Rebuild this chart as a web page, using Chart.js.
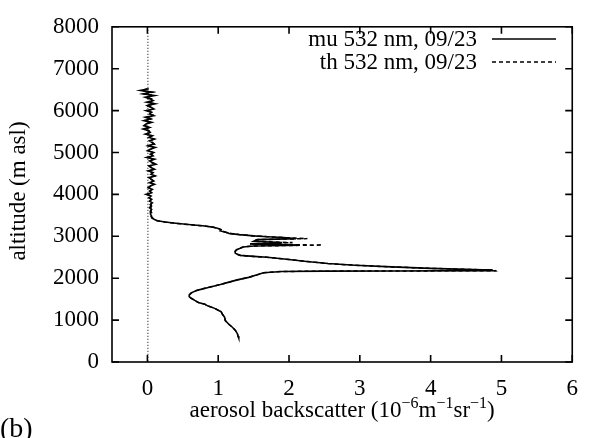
<!DOCTYPE html>
<html>
<head>
<meta charset="utf-8">
<script src="https://cdn.jsdelivr.net/npm/chart.js@4"></script>
<style>
    html, body { margin: 0; padding: 0; background: #fff; }
    #wrap { width: 591px; height: 438px; }
</style>
</head>
<body>
<div id="wrap"><canvas id="profileChart" width="591" height="438"></canvas></div>
<script>
// ===== DATA =====

// altitude levels in m asl, top of profile down to the lowest bin
const altitude = [
    6520, 6480, 6440, 6400, 6360, 6320, 6280, 6240, 6200, 6160,
    6120, 6080, 6040, 6000, 5960, 5920, 5880, 5840, 5800, 5760,
    5720, 5680, 5640, 5600, 5560, 5520, 5480, 5440, 5400, 5360,
    5320, 5280, 5240, 5200, 5160, 5120, 5080, 5040, 5000, 4960,
    4920, 4880, 4840, 4800, 4760, 4720, 4680, 4640, 4600, 4560,
    4520, 4480, 4440, 4400, 4360, 4320, 4280, 4240, 4200, 4160,
    4120, 4080, 4040, 4000, 3960, 3920, 3880, 3840, 3800, 3760,
    3720, 3680, 3640, 3600, 3560, 3520, 3480, 3440,
    3400, 3370, 3340, 3310, 3280, 3250, 3220, 3190, 3160, 3130,
    3100, 3070, 3040, 3010, 2990, 2970, 2945, 2920, 2880, 2850,
    2820, 2790, 2770, 2745, 2715, 2680, 2640, 2600,
    2570, 2545, 2520, 2500, 2465, 2400, 2350, 2310, 2270, 2235,
    2210, 2195, 2180, 2172, 2168, 2160, 2130, 2080, 2020, 1960,
    1900, 1850, 1780, 1710, 1650, 1600, 1560, 1520, 1460, 1420,
    1380, 1340, 1280, 1200, 1140, 1070, 990, 900, 830, 760,
    680, 620, 570
];

// mu 532 nm, 09/23 (solid)
const muBackscatter = [
    0.02, -0.10, 0.06, -0.06, 0.10, -0.03, 0.04, 0.08, -0.01, 0.11,
    0.00, 0.05, 0.09, -0.02, 0.06, 0.03, 0.09, -0.03, 0.04, -0.05,
    0.06, -0.02, -0.05, 0.03, -0.06, 0.02, 0.04, -0.03, 0.07, 0.02,
    0.10, 0.03, 0.06, 0.09, 0.01, 0.11, 0.04, 0.00, 0.09, 0.05,
    0.08, -0.01, 0.10, 0.03, 0.07, 0.12, 0.02, 0.05, 0.10, 0.01,
    0.08, 0.05, 0.11, 0.02, 0.06, 0.09, 0.03, 0.10, 0.04, 0.01,
    0.07, 0.03, 0.06, -0.02, 0.05, 0.02, 0.06, 0.03, 0.07, 0.04,
    0.05, 0.03, 0.06, 0.04, 0.05, 0.04, 0.06, 0.06,
    0.10, 0.14, 0.25, 0.40, 0.58, 0.78, 0.92, 0.99, 1.04, 1.03,
    1.10, 1.15, 1.30, 1.50, 1.70, 1.92, 2.10, 1.55, 1.50, 1.90,
    1.45, 2.15, 1.50, 1.35, 1.31, 1.26, 1.24, 1.24,
    1.27, 1.31, 1.50, 1.69, 1.90, 2.25, 2.55, 2.93, 3.45, 4.00,
    4.50, 4.85, 4.88, 3.50, 2.50, 1.90, 1.64, 1.55, 1.43, 1.27,
    1.14, 1.03, 0.86, 0.70, 0.62, 0.59, 0.59, 0.62, 0.68, 0.72,
    0.81, 0.85, 0.95, 1.04, 1.06, 1.09, 1.10, 1.15, 1.20, 1.24,
    1.27, 1.28, 1.29
];

// th 532 nm, 09/23 (dashed)
const thBackscatter = [
    0.00, -0.08, 0.07, -0.04, 0.08, -0.01, 0.06, 0.09, 0.01, 0.10,
    -0.02, 0.06, 0.08, 0.00, 0.05, 0.02, 0.10, -0.01, 0.05, -0.03,
    0.04, -0.04, -0.03, 0.04, -0.04, 0.01, 0.05, -0.01, 0.06, 0.03,
    0.09, 0.04, 0.07, 0.10, 0.02, 0.09, 0.05, 0.02, 0.08, 0.04,
    0.09, 0.01, 0.08, 0.04, 0.06, 0.10, 0.03, 0.06, 0.09, 0.02,
    0.07, 0.06, 0.10, 0.03, 0.05, 0.08, 0.04, 0.09, 0.05, 0.02,
    0.06, 0.04, 0.05, 0.00, 0.06, 0.03, 0.05, 0.04, 0.06, 0.05,
    0.06, 0.04, 0.05, 0.05, 0.06, 0.05, 0.05, 0.07,
    0.10, 0.14, 0.25, 0.40, 0.58, 0.78, 0.92, 0.99, 1.04, 1.03,
    1.10, 1.15, 1.30, 1.50, 1.70, 1.92, 2.26, 1.55, 1.50, 2.05,
    1.45, 2.47, 1.50, 1.35, 1.31, 1.26, 1.24, 1.24,
    1.27, 1.31, 1.50, 1.69, 1.90, 2.25, 2.55, 2.93, 3.45, 4.00,
    4.50, 4.87, 4.93, 3.50, 2.50, 1.90, 1.64, 1.55, 1.43, 1.27,
    1.14, 1.03, 0.86, 0.70, 0.62, 0.59, 0.59, 0.62, 0.68, 0.72,
    0.81, 0.85, 0.95, 1.04, 1.06, 1.09, 1.10, 1.15, 1.20, 1.24,
    1.27, 1.28, 1.29
];

const seriesLabels = ['mu 532 nm, 09/23', 'th 532 nm, 09/23'];
const xTicks = [0, 1, 2, 3, 4, 5, 6];
const yTicks = [0, 1000, 2000, 3000, 4000, 5000, 6000, 7000, 8000];

// ===== CHART =====

const SERIF = "'Liberation Serif', 'Times New Roman', serif";
const DASH = [4, 3];
const FONT_SIZE = 23;

Chart.defaults.font.family = SERIF;
Chart.defaults.color = '#000';

function toPoints(values) {
    return values.map((v, i) => ({ x: v, y: altitude[i] }));
}

// gnuplot-like frame, inward ticks, titles and key
const decorPlugin = {
    id: 'decor',
    beforeDatasetsDraw(chart) {
        const { ctx, chartArea, scales } = chart;
        const x0 = scales.x.getPixelForValue(0);
        ctx.save();
        ctx.strokeStyle = '#000';
        ctx.lineWidth = 1;
        ctx.setLineDash([1, 2]);
        ctx.beginPath();
        ctx.moveTo(x0 + 0.5, chartArea.top);
        ctx.lineTo(x0 + 0.5, chartArea.bottom);
        ctx.stroke();
        ctx.restore();
    },
    afterDraw(chart) {
        const { ctx, chartArea: a, scales } = chart;
        const tick = 7;
        ctx.save();
        ctx.strokeStyle = '#000';
        ctx.fillStyle = '#000';
        ctx.lineWidth = 1.6;

        // frame
        ctx.strokeRect(a.left, a.top, a.right - a.left, a.bottom - a.top);

        // ticks on all four sides
        ctx.beginPath();
        xTicks.forEach(v => {
            const px = scales.x.getPixelForValue(v);
            ctx.moveTo(px, a.bottom); ctx.lineTo(px, a.bottom - tick);
            ctx.moveTo(px, a.top); ctx.lineTo(px, a.top + tick);
        });
        yTicks.forEach(v => {
            const py = scales.y.getPixelForValue(v);
            ctx.moveTo(a.left, py); ctx.lineTo(a.left + tick, py);
            ctx.moveTo(a.right, py); ctx.lineTo(a.right - tick, py);
        });
        ctx.stroke();

        // key
        ctx.font = FONT_SIZE + 'px ' + SERIF;
        ctx.textAlign = 'right';
        ctx.textBaseline = 'middle';
        const keyRows = [39, 62];
        seriesLabels.forEach((label, i) => {
            const y = keyRows[i];
            ctx.fillText(label, 477, y + 1);
            ctx.lineWidth = 1.5;
            ctx.setLineDash(i === 0 ? [] : DASH);
            ctx.beginPath();
            ctx.moveTo(492, y);
            ctx.lineTo(556, y);
            ctx.stroke();
        });
        ctx.setLineDash([]);

        // y axis title
        ctx.save();
        ctx.translate(19, 191);
        ctx.rotate(-Math.PI / 2);
        ctx.textAlign = 'center';
        ctx.textBaseline = 'middle';
        ctx.font = FONT_SIZE + 'px ' + SERIF;
        ctx.fillText('altitude (m asl)', 0, 0);
        ctx.restore();

        // x axis title with superscripts
        const parts = [
            { t: 'aerosol backscatter (10', sup: false },
            { t: '\u22126', sup: true },
            { t: 'm', sup: false },
            { t: '\u22121', sup: true },
            { t: 'sr', sup: false },
            { t: '\u22121', sup: true },
            { t: ')', sup: false }
        ];
        const baseFont = FONT_SIZE + 'px ' + SERIF;
        const supFont = '16px ' + SERIF;
        let total = 0;
        parts.forEach(p => {
            ctx.font = p.sup ? supFont : baseFont;
            p.w = ctx.measureText(p.t).width;
            total += p.w;
        });
        let cx = (a.left + a.right) / 2 - total / 2;
        ctx.textAlign = 'left';
        ctx.textBaseline = 'alphabetic';
        parts.forEach(p => {
            ctx.font = p.sup ? supFont : baseFont;
            ctx.fillText(p.t, cx, p.sup ? 408 : 417);
            cx += p.w;
        });

        // panel label
        ctx.font = '28px ' + SERIF;
        ctx.fillText('(b)', 0, 437);
        ctx.restore();
    }
};

const ctx = document.getElementById('profileChart');

new Chart(ctx, {
    type: 'scatter',
    data: {
        datasets: [{
            label: seriesLabels[0],
            data: toPoints(muBackscatter),
            showLine: true,
            borderColor: '#000',
            borderWidth: 1.6,
            pointRadius: 0,
            tension: 0,
            order: 2
        }, {
            label: seriesLabels[1],
            data: toPoints(thBackscatter),
            showLine: true,
            borderColor: '#000',
            borderWidth: 1.5,
            borderDash: DASH,
            pointRadius: 0,
            tension: 0,
            order: 1
        }]
    },
    options: {
        responsive: false,
        animation: false,
        events: [],
        layout: {
            padding: { left: 0, top: 18, right: 9, bottom: 0 }
        },
        plugins: {
            legend: { display: false },
            tooltip: { enabled: false }
        },
        scales: {
            x: {
                type: 'linear',
                min: -0.5,
                max: 6,
                grid: { display: false, drawTicks: false },
                border: { display: false },
                afterBuildTicks: scale => {
                    scale.ticks = xTicks.map(v => ({ value: v }));
                },
                afterFit: scale => { scale.height = 76; },
                ticks: {
                    padding: 13,
                    color: '#000',
                    font: { size: FONT_SIZE, family: SERIF },
                    callback: v => String(v)
                }
            },
            y: {
                type: 'linear',
                min: 0,
                max: 8000,
                grid: { display: false, drawTicks: false },
                border: { display: false },
                afterBuildTicks: scale => {
                    scale.ticks = yTicks.map(v => ({ value: v }));
                },
                afterFit: scale => { scale.width = 112; },
                ticks: {
                    padding: 13,
                    color: '#000',
                    font: { size: FONT_SIZE, family: SERIF },
                    callback: v => String(v)
                }
            }
        }
    },
    plugins: [decorPlugin]
});
</script>
</body>
</html>
